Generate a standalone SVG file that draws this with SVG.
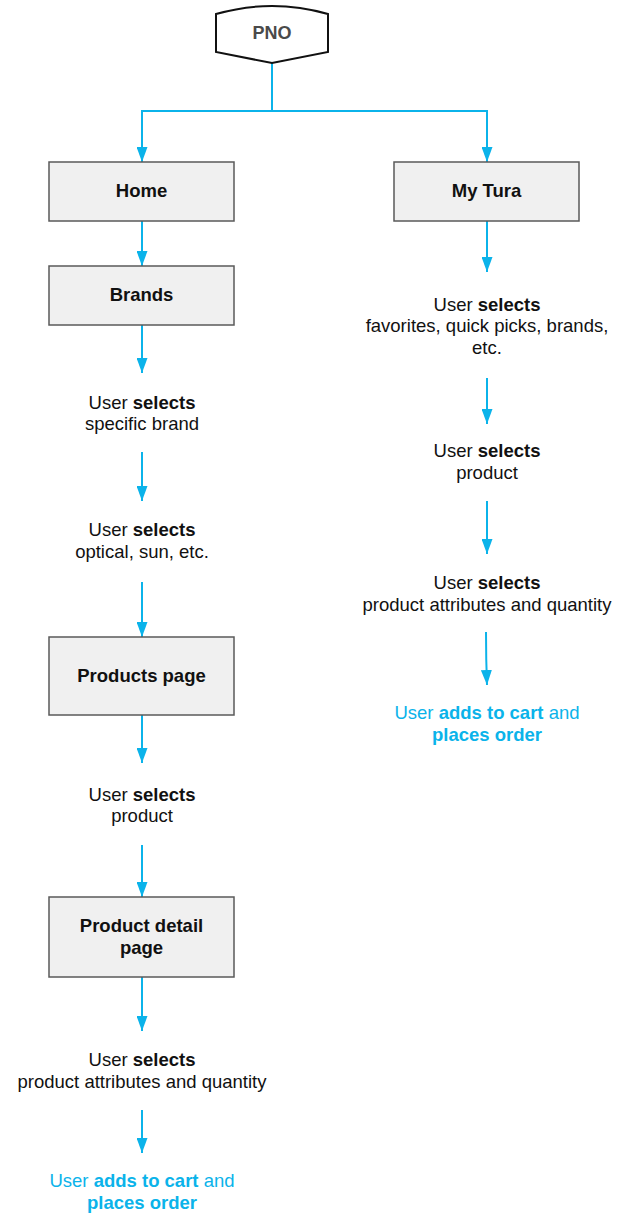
<svg xmlns="http://www.w3.org/2000/svg" width="621" height="1213" viewBox="0 0 621 1213">
<defs>
<marker id="ah" markerWidth="15" markerHeight="11" refX="15" refY="5.5" orient="auto" markerUnits="userSpaceOnUse" viewBox="0 0 15 11">
<path d="M0,0 L15,5.5 L0,11 Z" fill="#0bb3ea"/>
</marker>
</defs>
<style>
.c{fill:none;stroke:#0bb3ea;stroke-width:2}
.a{marker-end:url(#ah)}
.box{fill:#f0f0f0;stroke:#5a5a5a;stroke-width:1.5}
text{font-family:"Liberation Sans",Arial,Helvetica,sans-serif;font-size:18.5px;text-anchor:middle;fill:#111}
.b{font-weight:bold}
.blue{fill:#0bb3ea}
</style>
<rect width="621" height="1213" fill="#fff"/>
<g id="connectors">
<path class="c" d="M272,63 V111 M142,111 H487"/>
<path class="c a" d="M142,110 V162"/>
<path class="c a" d="M487,110 V162"/>
<path class="c a" d="M142,221 V266"/>
<path class="c a" d="M142,325 V373"/>
<path class="c a" d="M142,452 V501"/>
<path class="c a" d="M142,582 V637"/>
<path class="c a" d="M142,715 V763"/>
<path class="c a" d="M142,845 V897"/>
<path class="c a" d="M142,977 V1031"/>
<path class="c a" d="M142,1110 V1153"/>
<path class="c a" d="M487,221 V272"/>
<path class="c a" d="M487,378 V424"/>
<path class="c a" d="M487,501 V554"/>
<path class="c a" d="M486,632 Q486,660 487,685"/>
</g>
<g id="pno">
<path d="M216,14 Q272,-2 328,14 V52 L272,63 L216,52 Z" fill="#fff" stroke="#111" stroke-width="2"/>
<text x="272" y="39" class="b" style="fill:#4a4a4a;font-size:18px">PNO</text>
</g>
<g id="home">
<rect class="box" x="49" y="162" width="185" height="59"/>
<text x="141.5" y="197" class="b">Home</text>
</g>
<g id="mytura">
<rect class="box" x="394" y="162" width="185" height="59"/>
<text x="486.5" y="197" class="b">My Tura</text>
</g>
<g id="brands">
<rect class="box" x="49" y="266" width="185" height="59"/>
<text x="141.5" y="301" class="b">Brands</text>
</g>
<g id="sel-brand">
<text x="142" y="409">User <tspan class="b">selects</tspan></text>
<text x="142" y="430">specific brand</text>
</g>
<g id="sel-optical">
<text x="142" y="536">User <tspan class="b">selects</tspan></text>
<text x="142" y="558">optical, sun, etc.</text>
</g>
<g id="products">
<rect class="box" x="49" y="637" width="185" height="78"/>
<text x="141.5" y="682" class="b">Products page</text>
</g>
<g id="sel-product-l">
<text x="142" y="801">User <tspan class="b">selects</tspan></text>
<text x="142" y="822">product</text>
</g>
<g id="detail">
<rect class="box" x="49" y="897" width="185" height="80"/>
<text x="141.5" y="932" class="b">Product detail</text>
<text x="141.5" y="954" class="b">page</text>
</g>
<g id="sel-attr-l">
<text x="142" y="1066">User <tspan class="b">selects</tspan></text>
<text x="142" y="1088">product attributes and quantity</text>
</g>
<g id="order-l">
<text x="142" y="1187" class="blue">User <tspan class="b">adds to cart</tspan> and</text>
<text x="142" y="1209" class="blue b">places order</text>
</g>
<g id="sel-fav">
<text x="487" y="311">User <tspan class="b">selects</tspan></text>
<text x="487" y="332">favorites, quick picks, brands,</text>
<text x="487" y="354">etc.</text>
</g>
<g id="sel-product-r">
<text x="487" y="457">User <tspan class="b">selects</tspan></text>
<text x="487" y="479">product</text>
</g>
<g id="sel-attr-r">
<text x="487" y="589">User <tspan class="b">selects</tspan></text>
<text x="487" y="611">product attributes and quantity</text>
</g>
<g id="order-r">
<text x="487" y="719" class="blue">User <tspan class="b">adds to cart</tspan> and</text>
<text x="487" y="741" class="blue b">places order</text>
</g>
</svg>
